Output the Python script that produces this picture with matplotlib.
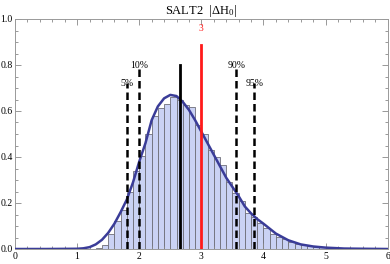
import matplotlib
matplotlib.use("Agg")
import matplotlib.pyplot as plt
from matplotlib.ticker import MultipleLocator, FormatStrFormatter

# ---- data ----
bin_left = [1.3, 1.4, 1.5, 1.6, 1.7, 1.8, 1.9, 2.0, 2.1, 2.2, 2.3, 2.4, 2.5, 2.6,
            2.7, 2.8, 2.9, 3.0, 3.1, 3.2, 3.3, 3.4, 3.5, 3.6, 3.7, 3.8, 3.9, 4.0,
            4.1, 4.2, 4.3, 4.4, 4.5, 4.6, 4.7, 4.8, 4.9, 5.0, 5.1, 5.2, 5.3]
bin_height = [0.006, 0.017, 0.065, 0.12, 0.17, 0.25, 0.34, 0.405, 0.50, 0.578,
              0.612, 0.63, 0.662, 0.65, 0.624, 0.618, 0.54, 0.498, 0.43, 0.40,
              0.365, 0.29, 0.245, 0.208, 0.155, 0.138, 0.114, 0.093, 0.064,
              0.052, 0.042, 0.030, 0.022, 0.017, 0.012, 0.010, 0.008, 0.005,
              0.004, 0.003, 0.002]
bin_width = 0.1

curve_x = [0.0, 0.5, 1.0, 1.1, 1.2, 1.3, 1.4, 1.5, 1.6, 1.7, 1.8, 1.9, 2.0, 2.1,
           2.2, 2.3, 2.4, 2.5, 2.6, 2.7, 2.8, 2.9, 3.0, 3.1, 3.2, 3.3, 3.4, 3.5,
           3.6, 3.7, 3.8, 3.9, 4.0, 4.2, 4.4, 4.6, 4.8, 5.0, 5.3, 5.6, 6.0]
curve_y = [0.0, 0.0, 0.001, 0.003, 0.008, 0.02, 0.04, 0.07, 0.11, 0.16, 0.215,
           0.29, 0.38, 0.46, 0.56, 0.62, 0.655, 0.67, 0.665, 0.64, 0.605, 0.56,
           0.51, 0.46, 0.41, 0.36, 0.31, 0.27, 0.23, 0.185, 0.155, 0.13, 0.11,
           0.067, 0.038, 0.02, 0.011, 0.006, 0.002, 0.001, 0.0]

pct_labels = ["5%", "10%", "90%", "95%"]
pct_x = [1.80, 2.00, 3.56, 3.85]
pct_top = [0.72, 0.80, 0.80, 0.72]

median_x = 2.66
median_top = 0.80
ref_x = 3.0
ref_top = 0.885
ref_label = "3"

x_ticks = [0, 1, 2, 3, 4, 5, 6]
y_ticks = [0.0, 0.2, 0.4, 0.6, 0.8, 1.0]

serif = ["Liberation Serif", "DejaVu Serif"]
plt.rcParams["font.family"] = serif
plt.rcParams["mathtext.fontset"] = "custom"
plt.rcParams["mathtext.rm"] = "Liberation Serif"
plt.rcParams["mathtext.it"] = "Liberation Serif"

fig = plt.figure(figsize=(3.9, 2.64), dpi=100)
ax = fig.add_axes([15/390, 1 - 249/264, (387.7 - 15)/390, (249 - 19)/264])

ax.bar(bin_left, bin_height, width=bin_width, align="edge",
       color="#CAD2F4", edgecolor="#6E6E78", linewidth=0.6, zorder=1)
ax.plot(curve_x, curve_y, color="#3A3C98", linewidth=1.8, zorder=3,
        solid_capstyle="round", solid_joinstyle="round")

for lab, xv, top in zip(pct_labels, pct_x, pct_top):
    ax.plot([xv, xv], [0, top], color="black", linewidth=1.8,
            linestyle=(0, (3, 1.6)), zorder=4)
    ax.text(xv, top, lab, ha="center", va="center", fontsize=7, zorder=5)

ax.plot([median_x, median_x], [0, median_top], color="black", linewidth=2.0, zorder=4)
ax.plot([ref_x, ref_x], [0, ref_top], color="#FF1A1A", linewidth=2.0, zorder=4)
ax.text(ref_x, 0.957, ref_label, color="#FF1A1A", ha="center", va="center",
        fontsize=7)

ax.set_xlim(0, 6)
ax.set_ylim(0, 1.0)
ax.set_xticks(x_ticks)
ax.set_yticks(y_ticks)
ax.yaxis.set_major_formatter(FormatStrFormatter("%.1f"))
ax.xaxis.set_minor_locator(MultipleLocator(0.2))
ax.yaxis.set_minor_locator(MultipleLocator(0.05))
ax.tick_params(which="both", direction="in", top=True, right=True,
               labelsize=7, color="#888888", pad=1.5, width=0.6)
ax.tick_params(which="major", length=4)
ax.tick_params(which="minor", length=2)
ax.tick_params(axis="x", pad=2.5)
for s in ax.spines.values():
    s.set_color("#999999")
    s.set_linewidth(0.7)

ax.set_title(r"SALT2  $|\Delta \mathrm{H}_0|$", fontsize=9, pad=3)

fig.savefig("out.png", dpi=100)
